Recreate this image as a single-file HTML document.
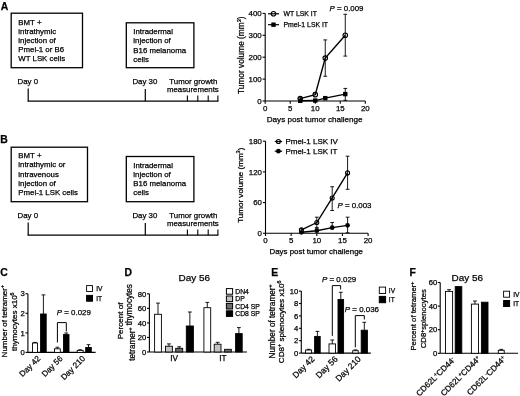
<!DOCTYPE html>
<html><head><meta charset="utf-8"><style>
html,body{margin:0;padding:0;background:#fff;}
body{width:520px;height:396px;overflow:hidden;}
svg{display:block;font-family:"Liberation Sans",sans-serif;}
svg text{fill:#000;stroke:#000;stroke-width:0.25px;}
svg{will-change:transform;}
</style></head><body>
<svg width="520" height="396" viewBox="0 0 520 396" stroke="#000" fill="none">
<text x="0.70" y="9.60" font-size="10.4" text-anchor="start" font-weight="bold" >A</text>
<text x="0.30" y="143.00" font-size="10.4" text-anchor="start" font-weight="bold" >B</text>
<text x="0.30" y="276.40" font-size="10.4" text-anchor="start" font-weight="bold" >C</text>
<text x="124.40" y="276.40" font-size="10.4" text-anchor="start" font-weight="bold" >D</text>
<text x="271.20" y="276.00" font-size="10.4" text-anchor="start" font-weight="bold" >E</text>
<text x="409.40" y="276.20" font-size="10.4" text-anchor="start" font-weight="bold" >F</text>
<rect x="11.20" y="13.20" width="71.30" height="54.50" fill="none" stroke-width="1.3"/>
<text x="18.30" y="24.60" font-size="7.85" text-anchor="start" >BMT +</text>
<text x="18.30" y="33.80" font-size="7.85" text-anchor="start" >intrathymic</text>
<text x="18.30" y="43.00" font-size="7.85" text-anchor="start" >injection of</text>
<text x="18.30" y="52.20" font-size="7.85" text-anchor="start" >Pmel-1 or B6</text>
<text x="18.30" y="61.40" font-size="7.85" text-anchor="start" >WT LSK cells</text>
<rect x="126.30" y="22.80" width="67.60" height="44.90" fill="none" stroke-width="1.3"/>
<text x="133.30" y="34.10" font-size="7.85" text-anchor="start" >Intradermal</text>
<text x="133.30" y="43.30" font-size="7.85" text-anchor="start" >injection of</text>
<text x="133.30" y="52.50" font-size="7.85" text-anchor="start" >B16 melanoma</text>
<text x="133.30" y="61.70" font-size="7.85" text-anchor="start" >cells</text>
<text x="17.60" y="83.90" font-size="7.85" text-anchor="start" >Day 0</text>
<text x="132.40" y="84.00" font-size="7.85" text-anchor="start" >Day 30</text>
<text x="169.30" y="84.20" font-size="7.85" text-anchor="start" >Tumor growth</text>
<text x="166.90" y="92.30" font-size="7.85" text-anchor="start" >measurements</text>
<line x1="28.20" y1="88.60" x2="28.20" y2="101.20" stroke-width="1.2"/>
<line x1="27.60" y1="101.20" x2="218.40" y2="101.20" stroke-width="1.2"/>
<line x1="145.30" y1="89.00" x2="145.30" y2="101.20" stroke-width="1.2"/>
<line x1="187.40" y1="95.60" x2="187.40" y2="101.20" stroke-width="1.1"/>
<line x1="197.80" y1="95.60" x2="197.80" y2="101.20" stroke-width="1.1"/>
<line x1="208.20" y1="95.60" x2="208.20" y2="101.20" stroke-width="1.1"/>
<line x1="217.90" y1="95.60" x2="217.90" y2="101.20" stroke-width="1.1"/>
<rect x="11.20" y="147.20" width="76.30" height="54.50" fill="none" stroke-width="1.3"/>
<text x="18.30" y="158.30" font-size="7.85" text-anchor="start" >BMT +</text>
<text x="18.30" y="167.40" font-size="7.85" text-anchor="start" >intrathymic or</text>
<text x="18.30" y="176.50" font-size="7.85" text-anchor="start" >intravenous</text>
<text x="18.30" y="185.60" font-size="7.85" text-anchor="start" >injection of</text>
<text x="18.30" y="194.70" font-size="7.85" text-anchor="start" >Pmel-1 LSK cells</text>
<rect x="126.30" y="156.50" width="67.60" height="45.20" fill="none" stroke-width="1.3"/>
<text x="133.30" y="167.90" font-size="7.85" text-anchor="start" >Intradermal</text>
<text x="133.30" y="177.00" font-size="7.85" text-anchor="start" >injection of</text>
<text x="133.30" y="186.10" font-size="7.85" text-anchor="start" >B16 melanoma</text>
<text x="133.30" y="195.20" font-size="7.85" text-anchor="start" >cells</text>
<text x="17.60" y="217.90" font-size="7.85" text-anchor="start" >Day 0</text>
<text x="132.40" y="218.00" font-size="7.85" text-anchor="start" >Day 30</text>
<text x="169.30" y="218.20" font-size="7.85" text-anchor="start" >Tumor growth</text>
<text x="166.90" y="226.30" font-size="7.85" text-anchor="start" >measurements</text>
<line x1="28.20" y1="222.60" x2="28.20" y2="235.20" stroke-width="1.2"/>
<line x1="27.60" y1="235.20" x2="218.40" y2="235.20" stroke-width="1.2"/>
<line x1="145.30" y1="223.00" x2="145.30" y2="235.20" stroke-width="1.2"/>
<line x1="187.40" y1="229.60" x2="187.40" y2="235.20" stroke-width="1.1"/>
<line x1="197.80" y1="229.60" x2="197.80" y2="235.20" stroke-width="1.1"/>
<line x1="208.20" y1="229.60" x2="208.20" y2="235.20" stroke-width="1.1"/>
<line x1="217.90" y1="229.60" x2="217.90" y2="235.20" stroke-width="1.1"/>
<line x1="265.20" y1="13.40" x2="265.20" y2="101.00" stroke-width="1.1"/>
<line x1="265.20" y1="101.00" x2="365.30" y2="101.00" stroke-width="1.1"/>
<line x1="262.60" y1="101.00" x2="265.20" y2="101.00" stroke-width="1.1"/>
<text x="261.70" y="103.80" font-size="7.9" text-anchor="end" >0</text>
<line x1="262.60" y1="79.10" x2="265.20" y2="79.10" stroke-width="1.1"/>
<text x="261.70" y="81.90" font-size="7.9" text-anchor="end" >100</text>
<line x1="262.60" y1="57.20" x2="265.20" y2="57.20" stroke-width="1.1"/>
<text x="261.70" y="60.00" font-size="7.9" text-anchor="end" >200</text>
<line x1="262.60" y1="35.30" x2="265.20" y2="35.30" stroke-width="1.1"/>
<text x="261.70" y="38.10" font-size="7.9" text-anchor="end" >300</text>
<line x1="262.60" y1="13.40" x2="265.20" y2="13.40" stroke-width="1.1"/>
<text x="261.70" y="16.20" font-size="7.9" text-anchor="end" >400</text>
<line x1="265.20" y1="101.00" x2="265.20" y2="103.70" stroke-width="1.1"/>
<text x="265.20" y="110.90" font-size="7.9" text-anchor="middle" >0</text>
<line x1="290.22" y1="101.00" x2="290.22" y2="103.70" stroke-width="1.1"/>
<text x="290.22" y="110.90" font-size="7.9" text-anchor="middle" >5</text>
<line x1="315.25" y1="101.00" x2="315.25" y2="103.70" stroke-width="1.1"/>
<text x="315.25" y="110.90" font-size="7.9" text-anchor="middle" >10</text>
<line x1="340.27" y1="101.00" x2="340.27" y2="103.70" stroke-width="1.1"/>
<text x="340.27" y="110.90" font-size="7.9" text-anchor="middle" >15</text>
<line x1="365.30" y1="101.00" x2="365.30" y2="103.70" stroke-width="1.1"/>
<text x="365.30" y="110.90" font-size="7.9" text-anchor="middle" >20</text>
<text x="314.65" y="121.50" font-size="8.1" text-anchor="middle" >Days post tumor challenge</text>
<text transform="translate(244.10,55.20) rotate(-90)" font-size="8.3" text-anchor="middle">Tumor volume (mm<tspan dy="-2.8" font-size="5.6">3</tspan><tspan dy="2.8">)</tspan></text>
<polyline points="300.24,98.59 315.25,94.65 325.26,58.08 345.28,35.30" fill="none" stroke-width="1.4"/>
<line x1="300.24" y1="97.72" x2="300.24" y2="98.59" stroke-width="0.9"/>
<line x1="298.34" y1="97.72" x2="302.13" y2="97.72" stroke-width="0.9"/>
<line x1="315.25" y1="92.46" x2="315.25" y2="94.65" stroke-width="0.9"/>
<line x1="313.35" y1="92.46" x2="317.15" y2="92.46" stroke-width="0.9"/>
<line x1="325.26" y1="39.90" x2="325.26" y2="58.08" stroke-width="0.9"/>
<line x1="323.36" y1="39.90" x2="327.16" y2="39.90" stroke-width="0.9"/>
<line x1="325.26" y1="76.25" x2="325.26" y2="58.08" stroke-width="0.9"/>
<line x1="323.36" y1="76.25" x2="327.16" y2="76.25" stroke-width="0.9"/>
<line x1="345.28" y1="14.28" x2="345.28" y2="35.30" stroke-width="0.9"/>
<line x1="343.38" y1="14.28" x2="347.18" y2="14.28" stroke-width="0.9"/>
<line x1="345.28" y1="56.10" x2="345.28" y2="35.30" stroke-width="0.9"/>
<line x1="343.38" y1="56.10" x2="347.18" y2="56.10" stroke-width="0.9"/>
<circle cx="300.24" cy="98.59" r="2.25" fill="none" stroke-width="1.1"/>
<circle cx="315.25" cy="94.65" r="2.25" fill="none" stroke-width="1.1"/>
<circle cx="325.26" cy="58.08" r="2.25" fill="none" stroke-width="1.1"/>
<circle cx="345.28" cy="35.30" r="2.25" fill="none" stroke-width="1.1"/>
<polyline points="300.24,100.78 315.25,100.56 325.26,98.15 345.28,94.10" fill="none" stroke-width="1.4"/>
<line x1="315.25" y1="99.91" x2="315.25" y2="100.56" stroke-width="0.9"/>
<line x1="313.35" y1="99.91" x2="317.15" y2="99.91" stroke-width="0.9"/>
<line x1="325.26" y1="97.28" x2="325.26" y2="98.15" stroke-width="0.9"/>
<line x1="323.36" y1="97.28" x2="327.16" y2="97.28" stroke-width="0.9"/>
<line x1="345.28" y1="88.41" x2="345.28" y2="94.10" stroke-width="0.9"/>
<line x1="343.38" y1="88.41" x2="347.18" y2="88.41" stroke-width="0.9"/>
<line x1="345.28" y1="100.34" x2="345.28" y2="94.10" stroke-width="0.9"/>
<line x1="343.38" y1="100.34" x2="347.18" y2="100.34" stroke-width="0.9"/>
<rect x="298.04" y="98.58" width="4.4" height="4.4" fill="#000" stroke="none"/>
<rect x="313.05" y="98.36" width="4.4" height="4.4" fill="#000" stroke="none"/>
<rect x="323.06" y="95.95" width="4.4" height="4.4" fill="#000" stroke="none"/>
<rect x="343.08" y="91.90" width="4.4" height="4.4" fill="#000" stroke="none"/>
<line x1="268.00" y1="13.80" x2="279.00" y2="13.80" stroke-width="1.2"/>
<circle cx="273.50" cy="13.80" r="2.25" fill="none" stroke-width="1.1"/>
<text x="283.50" y="16.40" font-size="6.85" text-anchor="start" >WT LSK IT</text>
<line x1="268.00" y1="24.70" x2="279.00" y2="24.70" stroke-width="1.2"/>
<rect x="271.30" y="22.50" width="4.4" height="4.4" fill="#000" stroke="none"/>
<text x="283.50" y="27.30" font-size="6.85" text-anchor="start" >Pmel-1 LSK IT</text>
<text x="329.5" y="11.3" font-size="7.9"><tspan font-style="italic">P</tspan> = 0.009</text>
<line x1="265.50" y1="141.19" x2="265.50" y2="233.30" stroke-width="1.1"/>
<line x1="265.50" y1="233.30" x2="368.10" y2="233.30" stroke-width="1.1"/>
<line x1="262.90" y1="233.30" x2="265.50" y2="233.30" stroke-width="1.1"/>
<text x="262.00" y="236.10" font-size="7.9" text-anchor="end" >0</text>
<line x1="262.90" y1="202.60" x2="265.50" y2="202.60" stroke-width="1.1"/>
<text x="262.00" y="205.40" font-size="7.9" text-anchor="end" >60</text>
<line x1="262.90" y1="171.90" x2="265.50" y2="171.90" stroke-width="1.1"/>
<text x="262.00" y="174.70" font-size="7.9" text-anchor="end" >120</text>
<line x1="262.90" y1="141.19" x2="265.50" y2="141.19" stroke-width="1.1"/>
<text x="262.00" y="143.99" font-size="7.9" text-anchor="end" >180</text>
<line x1="265.50" y1="233.30" x2="265.50" y2="236.00" stroke-width="1.1"/>
<text x="265.50" y="243.20" font-size="7.9" text-anchor="middle" >0</text>
<line x1="291.15" y1="233.30" x2="291.15" y2="236.00" stroke-width="1.1"/>
<text x="291.15" y="243.20" font-size="7.9" text-anchor="middle" >5</text>
<line x1="316.80" y1="233.30" x2="316.80" y2="236.00" stroke-width="1.1"/>
<text x="316.80" y="243.20" font-size="7.9" text-anchor="middle" >10</text>
<line x1="342.45" y1="233.30" x2="342.45" y2="236.00" stroke-width="1.1"/>
<text x="342.45" y="243.20" font-size="7.9" text-anchor="middle" >15</text>
<line x1="368.10" y1="233.30" x2="368.10" y2="236.00" stroke-width="1.1"/>
<text x="368.10" y="243.20" font-size="7.9" text-anchor="middle" >20</text>
<text x="316.20" y="253.80" font-size="7.9" text-anchor="middle" >Days post tumor challenge</text>
<text transform="translate(242.60,185.20) rotate(-90)" font-size="8.05" text-anchor="middle">Tumor volume (mm<tspan dy="-2.8" font-size="5.6">3</tspan><tspan dy="2.8">)</tspan></text>
<polyline points="301.41,229.92 316.80,222.55 332.19,197.99 347.58,172.92" fill="none" stroke-width="1.4"/>
<line x1="301.41" y1="228.69" x2="301.41" y2="229.92" stroke-width="0.9"/>
<line x1="299.51" y1="228.69" x2="303.31" y2="228.69" stroke-width="0.9"/>
<line x1="316.80" y1="217.18" x2="316.80" y2="222.55" stroke-width="0.9"/>
<line x1="314.90" y1="217.18" x2="318.70" y2="217.18" stroke-width="0.9"/>
<line x1="316.80" y1="227.42" x2="316.80" y2="222.55" stroke-width="0.9"/>
<line x1="314.90" y1="227.42" x2="318.70" y2="227.42" stroke-width="0.9"/>
<line x1="332.19" y1="186.74" x2="332.19" y2="197.99" stroke-width="0.9"/>
<line x1="330.29" y1="186.74" x2="334.09" y2="186.74" stroke-width="0.9"/>
<line x1="332.19" y1="210.53" x2="332.19" y2="197.99" stroke-width="0.9"/>
<line x1="330.29" y1="210.53" x2="334.09" y2="210.53" stroke-width="0.9"/>
<line x1="347.58" y1="156.19" x2="347.58" y2="172.92" stroke-width="0.9"/>
<line x1="345.68" y1="156.19" x2="349.48" y2="156.19" stroke-width="0.9"/>
<line x1="347.58" y1="189.29" x2="347.58" y2="172.92" stroke-width="0.9"/>
<line x1="345.68" y1="189.29" x2="349.48" y2="189.29" stroke-width="0.9"/>
<circle cx="301.41" cy="229.92" r="2.0" fill="none" stroke-width="1.1"/>
<circle cx="316.80" cy="222.55" r="2.0" fill="none" stroke-width="1.1"/>
<circle cx="332.19" cy="197.99" r="2.0" fill="none" stroke-width="1.1"/>
<circle cx="347.58" cy="172.92" r="2.0" fill="none" stroke-width="1.1"/>
<polyline points="301.41,232.28 316.80,230.74 332.19,227.67 347.58,225.32" fill="none" stroke-width="1.4"/>
<line x1="316.80" y1="228.69" x2="316.80" y2="230.74" stroke-width="0.9"/>
<line x1="314.90" y1="228.69" x2="318.70" y2="228.69" stroke-width="0.9"/>
<line x1="332.19" y1="222.55" x2="332.19" y2="227.67" stroke-width="0.9"/>
<line x1="330.29" y1="222.55" x2="334.09" y2="222.55" stroke-width="0.9"/>
<line x1="347.58" y1="217.18" x2="347.58" y2="225.32" stroke-width="0.9"/>
<line x1="345.68" y1="217.18" x2="349.48" y2="217.18" stroke-width="0.9"/>
<line x1="347.58" y1="232.79" x2="347.58" y2="225.32" stroke-width="0.9"/>
<line x1="345.68" y1="232.79" x2="349.48" y2="232.79" stroke-width="0.9"/>
<circle cx="301.41" cy="232.28" r="2.35" fill="#000" stroke="none"/>
<circle cx="316.80" cy="230.74" r="2.35" fill="#000" stroke="none"/>
<circle cx="332.19" cy="227.67" r="2.35" fill="#000" stroke="none"/>
<circle cx="347.58" cy="225.32" r="2.35" fill="#000" stroke="none"/>
<line x1="274.80" y1="141.50" x2="282.10" y2="141.50" stroke-width="1.2"/>
<circle cx="278.40" cy="141.50" r="2.0" fill="none" stroke-width="1.1"/>
<text x="285.40" y="144.10" font-size="8.0" text-anchor="start" >Pmel-1 LSK IV</text>
<line x1="274.80" y1="151.20" x2="282.10" y2="151.20" stroke-width="1.2"/>
<circle cx="278.40" cy="151.20" r="2.35" fill="#000" stroke="none"/>
<text x="285.40" y="153.80" font-size="8.0" text-anchor="start" >Pmel-1 LSK IT</text>
<text x="337.5" y="208.0" font-size="7.9"><tspan font-style="italic">P</tspan> = 0.003</text>
<line x1="27.90" y1="293.75" x2="27.90" y2="352.40" stroke-width="1.1"/>
<line x1="25.50" y1="352.40" x2="27.90" y2="352.40" stroke-width="1.1"/>
<text x="24.90" y="355.10" font-size="7.7" text-anchor="end" >0</text>
<line x1="25.50" y1="332.85" x2="27.90" y2="332.85" stroke-width="1.1"/>
<text x="24.90" y="335.55" font-size="7.7" text-anchor="end" >1</text>
<line x1="25.50" y1="313.30" x2="27.90" y2="313.30" stroke-width="1.1"/>
<text x="24.90" y="316.00" font-size="7.7" text-anchor="end" >2</text>
<line x1="25.50" y1="293.75" x2="27.90" y2="293.75" stroke-width="1.1"/>
<text x="24.90" y="296.45" font-size="7.7" text-anchor="end" >3</text>
<line x1="27.90" y1="352.40" x2="95.60" y2="352.40" stroke-width="1.1"/>
<line x1="35.00" y1="342.40" x2="35.00" y2="343.00" stroke-width="0.9"/>
<line x1="33.10" y1="342.40" x2="36.90" y2="342.40" stroke-width="0.9"/>
<rect x="32.50" y="343.00" width="5.00" height="9.40" fill="#fff" stroke-width="0.9"/>
<line x1="43.40" y1="294.90" x2="43.40" y2="314.00" stroke-width="0.9"/>
<line x1="41.50" y1="294.90" x2="45.30" y2="294.90" stroke-width="0.9"/>
<rect x="40.60" y="314.00" width="5.60" height="38.40" fill="#000" stroke-width="0.9"/>
<line x1="57.40" y1="347.20" x2="57.40" y2="348.80" stroke-width="0.9"/>
<line x1="55.50" y1="347.20" x2="59.30" y2="347.20" stroke-width="0.9"/>
<rect x="54.50" y="348.80" width="5.80" height="3.60" fill="#fff" stroke-width="0.9"/>
<line x1="66.25" y1="333.00" x2="66.25" y2="334.60" stroke-width="0.9"/>
<line x1="64.35" y1="333.00" x2="68.15" y2="333.00" stroke-width="0.9"/>
<rect x="63.50" y="334.60" width="5.50" height="17.80" fill="#000" stroke-width="0.9"/>
<line x1="80.15" y1="349.80" x2="80.15" y2="350.40" stroke-width="0.9"/>
<line x1="78.25" y1="349.80" x2="82.05" y2="349.80" stroke-width="0.9"/>
<rect x="77.20" y="350.40" width="5.90" height="2.00" fill="#fff" stroke-width="0.9"/>
<line x1="88.50" y1="344.70" x2="88.50" y2="347.50" stroke-width="0.9"/>
<line x1="86.60" y1="344.70" x2="90.40" y2="344.70" stroke-width="0.9"/>
<rect x="85.70" y="347.50" width="5.60" height="4.90" fill="#000" stroke-width="0.9"/>
<polyline points="57.40,342.50 57.40,322.60 66.30,322.60 66.30,331.50" fill="none" stroke-width="1.0"/>
<text x="56.8" y="314.5" font-size="7.9"><tspan font-style="italic">P</tspan> = 0.029</text>
<rect x="86.60" y="285.60" width="5.90" height="5.90" fill="#fff" stroke-width="0.9"/>
<rect x="86.60" y="295.40" width="5.90" height="5.80" fill="#000" stroke-width="1.0"/>
<text x="96.20" y="291.30" font-size="6.6" text-anchor="start" >IV</text>
<text x="96.20" y="301.10" font-size="6.6" text-anchor="start" >IT</text>
<text transform="translate(6.80,357.40) rotate(-90)" font-size="8.0">Number of tetramer<tspan dy="-2.6" font-size="5.2">+</tspan><tspan dy="2.6"></tspan></text>
<text transform="translate(17.00,351.00) rotate(-90)" font-size="8.0">thymocytes x10<tspan dy="-2.7" font-size="5.4">6</tspan></text>
<text transform="translate(40.90,359.00) rotate(-45)" font-size="8.2" text-anchor="end">Day 42</text>
<text transform="translate(63.30,359.00) rotate(-45)" font-size="8.2" text-anchor="end">Day 56</text>
<text transform="translate(85.70,359.00) rotate(-45)" font-size="8.2" text-anchor="end">Day 210</text>
<line x1="149.40" y1="293.80" x2="149.40" y2="352.00" stroke-width="1.1"/>
<line x1="147.00" y1="352.00" x2="149.40" y2="352.00" stroke-width="1.1"/>
<text x="146.40" y="354.70" font-size="7.7" text-anchor="end" >0</text>
<line x1="147.00" y1="337.45" x2="149.40" y2="337.45" stroke-width="1.1"/>
<text x="146.40" y="340.15" font-size="7.7" text-anchor="end" >20</text>
<line x1="147.00" y1="322.90" x2="149.40" y2="322.90" stroke-width="1.1"/>
<text x="146.40" y="325.60" font-size="7.7" text-anchor="end" >40</text>
<line x1="147.00" y1="308.35" x2="149.40" y2="308.35" stroke-width="1.1"/>
<text x="146.40" y="311.05" font-size="7.7" text-anchor="end" >60</text>
<line x1="147.00" y1="293.80" x2="149.40" y2="293.80" stroke-width="1.1"/>
<text x="146.40" y="296.50" font-size="7.7" text-anchor="end" >80</text>
<line x1="149.40" y1="352.00" x2="247.00" y2="352.00" stroke-width="1.1"/>
<line x1="158.00" y1="303.10" x2="158.00" y2="314.30" stroke-width="0.9"/>
<line x1="156.10" y1="303.10" x2="159.90" y2="303.10" stroke-width="0.9"/>
<rect x="154.60" y="314.30" width="6.80" height="37.70" fill="#fff" stroke-width="0.9"/>
<line x1="168.95" y1="343.90" x2="168.95" y2="346.20" stroke-width="0.9"/>
<line x1="167.05" y1="343.90" x2="170.85" y2="343.90" stroke-width="0.9"/>
<rect x="165.50" y="346.20" width="6.90" height="5.80" fill="#c4c4c4" stroke-width="0.9"/>
<line x1="179.20" y1="346.80" x2="179.20" y2="348.30" stroke-width="0.9"/>
<line x1="177.30" y1="346.80" x2="181.10" y2="346.80" stroke-width="0.9"/>
<rect x="175.70" y="348.30" width="7.00" height="3.70" fill="#6e6e6e" stroke-width="0.9"/>
<line x1="189.85" y1="312.00" x2="189.85" y2="326.00" stroke-width="0.9"/>
<line x1="187.95" y1="312.00" x2="191.75" y2="312.00" stroke-width="0.9"/>
<rect x="186.30" y="326.00" width="7.10" height="26.00" fill="#000" stroke-width="0.9"/>
<line x1="207.30" y1="302.40" x2="207.30" y2="307.70" stroke-width="0.9"/>
<line x1="205.40" y1="302.40" x2="209.20" y2="302.40" stroke-width="0.9"/>
<rect x="203.90" y="307.70" width="6.80" height="44.30" fill="#fff" stroke-width="0.9"/>
<line x1="217.60" y1="342.30" x2="217.60" y2="344.20" stroke-width="0.9"/>
<line x1="215.70" y1="342.30" x2="219.50" y2="342.30" stroke-width="0.9"/>
<rect x="214.20" y="344.20" width="6.80" height="7.80" fill="#c4c4c4" stroke-width="0.9"/>
<rect x="224.60" y="349.30" width="6.70" height="2.70" fill="#6e6e6e" stroke-width="0.9"/>
<line x1="238.90" y1="327.60" x2="238.90" y2="333.60" stroke-width="0.9"/>
<line x1="237.00" y1="327.60" x2="240.80" y2="327.60" stroke-width="0.9"/>
<rect x="235.60" y="333.60" width="6.60" height="18.40" fill="#000" stroke-width="0.9"/>
<text x="174.00" y="360.70" font-size="8.2" text-anchor="middle" >IV</text>
<text x="222.80" y="360.70" font-size="8.2" text-anchor="middle" >IT</text>
<text x="178.60" y="281.10" font-size="9.95" text-anchor="start" >Day 56</text>
<rect x="226.40" y="288.60" width="6.20" height="5.60" fill="#fff" stroke-width="1.0"/>
<text x="235.30" y="293.80" font-size="6.8" text-anchor="start" >DN4</text>
<rect x="226.40" y="296.00" width="6.20" height="5.60" fill="#c4c4c4" stroke-width="1.0"/>
<text x="235.30" y="301.20" font-size="6.8" text-anchor="start" >DP</text>
<rect x="226.40" y="303.40" width="6.20" height="5.60" fill="#6e6e6e" stroke-width="1.0"/>
<text x="235.30" y="308.60" font-size="6.8" text-anchor="start" >CD4 SP</text>
<rect x="226.40" y="310.80" width="6.20" height="5.60" fill="#000" stroke-width="1.0"/>
<text x="235.30" y="316.00" font-size="6.8" text-anchor="start" >CD8 SP</text>
<text transform="translate(123.00,339.30) rotate(-90)" font-size="8.05">Percent of</text>
<text transform="translate(134.60,360.80) rotate(-90)" font-size="8.15">tetramer<tspan dy="-2.6" font-size="5.2">+</tspan><tspan dy="2.6"></tspan> thymocytes</text>
<line x1="301.30" y1="291.10" x2="301.30" y2="353.10" stroke-width="1.1"/>
<line x1="298.90" y1="353.10" x2="301.30" y2="353.10" stroke-width="1.1"/>
<text x="298.30" y="355.80" font-size="7.7" text-anchor="end" >0</text>
<line x1="298.90" y1="340.70" x2="301.30" y2="340.70" stroke-width="1.1"/>
<text x="298.30" y="343.40" font-size="7.7" text-anchor="end" >2</text>
<line x1="298.90" y1="328.30" x2="301.30" y2="328.30" stroke-width="1.1"/>
<text x="298.30" y="331.00" font-size="7.7" text-anchor="end" >4</text>
<line x1="298.90" y1="315.90" x2="301.30" y2="315.90" stroke-width="1.1"/>
<text x="298.30" y="318.60" font-size="7.7" text-anchor="end" >6</text>
<line x1="298.90" y1="303.50" x2="301.30" y2="303.50" stroke-width="1.1"/>
<text x="298.30" y="306.20" font-size="7.7" text-anchor="end" >8</text>
<line x1="298.90" y1="291.10" x2="301.30" y2="291.10" stroke-width="1.1"/>
<text x="298.30" y="293.80" font-size="7.7" text-anchor="end" >10</text>
<line x1="301.30" y1="353.10" x2="370.80" y2="353.10" stroke-width="1.1"/>
<line x1="308.60" y1="349.30" x2="308.60" y2="350.00" stroke-width="0.9"/>
<line x1="306.70" y1="349.30" x2="310.50" y2="349.30" stroke-width="0.9"/>
<rect x="305.60" y="350.00" width="6.00" height="3.10" fill="#fff" stroke-width="0.9"/>
<line x1="317.40" y1="331.40" x2="317.40" y2="336.40" stroke-width="0.9"/>
<line x1="315.50" y1="331.40" x2="319.30" y2="331.40" stroke-width="0.9"/>
<rect x="314.60" y="336.40" width="5.60" height="16.70" fill="#000" stroke-width="0.9"/>
<line x1="332.25" y1="340.00" x2="332.25" y2="343.90" stroke-width="0.9"/>
<line x1="330.35" y1="340.00" x2="334.15" y2="340.00" stroke-width="0.9"/>
<rect x="329.00" y="343.90" width="6.50" height="9.20" fill="#fff" stroke-width="0.9"/>
<line x1="340.80" y1="292.30" x2="340.80" y2="299.50" stroke-width="0.9"/>
<line x1="338.90" y1="292.30" x2="342.70" y2="292.30" stroke-width="0.9"/>
<rect x="338.00" y="299.50" width="5.60" height="53.60" fill="#000" stroke-width="0.9"/>
<line x1="355.45" y1="349.90" x2="355.45" y2="350.70" stroke-width="0.9"/>
<line x1="353.55" y1="349.90" x2="357.35" y2="349.90" stroke-width="0.9"/>
<rect x="352.70" y="350.70" width="5.50" height="2.40" fill="#fff" stroke-width="0.9"/>
<line x1="364.30" y1="322.30" x2="364.30" y2="330.20" stroke-width="0.9"/>
<line x1="362.40" y1="322.30" x2="366.20" y2="322.30" stroke-width="0.9"/>
<rect x="361.20" y="330.20" width="6.20" height="22.90" fill="#000" stroke-width="0.9"/>
<polyline points="332.30,335.90 332.30,285.60 340.60,285.60 340.60,289.40" fill="none" stroke-width="1.0"/>
<polyline points="355.30,347.30 355.30,315.60 364.30,315.60 364.30,319.50" fill="none" stroke-width="1.0"/>
<text x="322.0" y="281.9" font-size="7.95"><tspan font-style="italic">P</tspan> = 0.029</text>
<text x="344.8" y="312.1" font-size="7.95"><tspan font-style="italic">P</tspan> = 0.036</text>
<rect x="379.30" y="287.10" width="6.30" height="6.40" fill="#fff" stroke-width="0.9"/>
<rect x="379.30" y="296.40" width="6.30" height="6.30" fill="#000" stroke-width="1.0"/>
<text x="388.80" y="292.90" font-size="6.6" text-anchor="start" >IV</text>
<text x="388.80" y="302.30" font-size="6.6" text-anchor="start" >IT</text>
<text transform="translate(275.00,358.50) rotate(-90)" font-size="8.2">Number of tetramer<tspan dy="-2.6" font-size="5.2">+</tspan><tspan dy="2.6"></tspan></text>
<text transform="translate(284.10,363.20) rotate(-90)" font-size="8.1">CD8<tspan dy="-2.7" font-size="5.4">+</tspan><tspan dy="2.7"> splenocytes x10</tspan><tspan dy="-2.7" font-size="5.4">6</tspan></text>
<text transform="translate(315.00,359.60) rotate(-45)" font-size="8.5" text-anchor="end">Day 42</text>
<text transform="translate(338.30,359.60) rotate(-45)" font-size="8.5" text-anchor="end">Day 56</text>
<text transform="translate(361.40,359.60) rotate(-45)" font-size="8.5" text-anchor="end">Day 210</text>
<line x1="440.20" y1="282.50" x2="440.20" y2="353.30" stroke-width="1.1"/>
<line x1="437.80" y1="353.30" x2="440.20" y2="353.30" stroke-width="1.1"/>
<text x="437.20" y="356.00" font-size="7.7" text-anchor="end" >0</text>
<line x1="437.80" y1="329.70" x2="440.20" y2="329.70" stroke-width="1.1"/>
<text x="437.20" y="332.40" font-size="7.7" text-anchor="end" >20</text>
<line x1="437.80" y1="306.10" x2="440.20" y2="306.10" stroke-width="1.1"/>
<text x="437.20" y="308.80" font-size="7.7" text-anchor="end" >40</text>
<line x1="437.80" y1="282.50" x2="440.20" y2="282.50" stroke-width="1.1"/>
<text x="437.20" y="285.20" font-size="7.7" text-anchor="end" >60</text>
<line x1="440.20" y1="353.30" x2="518.00" y2="353.30" stroke-width="1.1"/>
<line x1="449.05" y1="289.70" x2="449.05" y2="291.40" stroke-width="0.9"/>
<line x1="447.15" y1="289.70" x2="450.95" y2="289.70" stroke-width="0.9"/>
<rect x="445.50" y="291.40" width="7.10" height="61.90" fill="#fff" stroke-width="0.9"/>
<rect x="455.20" y="286.60" width="6.60" height="66.70" fill="#000" stroke-width="0.9"/>
<line x1="474.95" y1="301.00" x2="474.95" y2="304.10" stroke-width="0.9"/>
<line x1="473.05" y1="301.00" x2="476.85" y2="301.00" stroke-width="0.9"/>
<rect x="471.40" y="304.10" width="7.10" height="49.20" fill="#fff" stroke-width="0.9"/>
<rect x="481.40" y="302.20" width="6.60" height="51.10" fill="#000" stroke-width="0.9"/>
<line x1="501.25" y1="349.40" x2="501.25" y2="350.30" stroke-width="0.9"/>
<line x1="499.35" y1="349.40" x2="503.15" y2="349.40" stroke-width="0.9"/>
<rect x="498.30" y="350.30" width="5.90" height="3.00" fill="#fff" stroke-width="0.9"/>
<text x="451.60" y="281.30" font-size="9.95" text-anchor="start" >Day 56</text>
<rect x="503.60" y="291.20" width="6.00" height="6.00" fill="#fff" stroke-width="0.9"/>
<rect x="503.60" y="300.50" width="6.00" height="6.00" fill="#000" stroke-width="1.0"/>
<text x="513.20" y="297.00" font-size="6.6" text-anchor="start" >IV</text>
<text x="513.20" y="306.30" font-size="6.6" text-anchor="start" >IT</text>
<text transform="translate(416.10,316.10) rotate(-90)" font-size="7.7" text-anchor="middle">Percent of tetramer<tspan dy="-2.6" font-size="5.2">+</tspan><tspan dy="2.6"></tspan></text>
<text transform="translate(426.2,318.7) rotate(-90)" font-size="7.7" text-anchor="middle">CD8<tspan dy="-2.6" font-size="5.2">+</tspan><tspan dy="2.6">splenocytes</tspan></text>
<text transform="translate(455.60,360.50) rotate(-45)" font-size="8.2" text-anchor="end">CD62L<tspan dy="-2.6" font-size="5.2">+</tspan><tspan dy="2.6">CD44</tspan><tspan dy="-2.6" font-size="5.2">-</tspan><tspan dy="2.6"></tspan></text>
<text transform="translate(481.00,359.50) rotate(-45)" font-size="8.2" text-anchor="end">CD62L<tspan dy="-2.6" font-size="5.2">+</tspan><tspan dy="2.6">CD44</tspan><tspan dy="-2.6" font-size="5.2">+</tspan><tspan dy="2.6"></tspan></text>
<text transform="translate(506.40,359.50) rotate(-45)" font-size="8.2" text-anchor="end">CD62L<tspan dy="-2.6" font-size="5.2">-</tspan><tspan dy="2.6">CD44</tspan><tspan dy="-2.6" font-size="5.2">+</tspan><tspan dy="2.6"></tspan></text>
</svg>
</body></html>
